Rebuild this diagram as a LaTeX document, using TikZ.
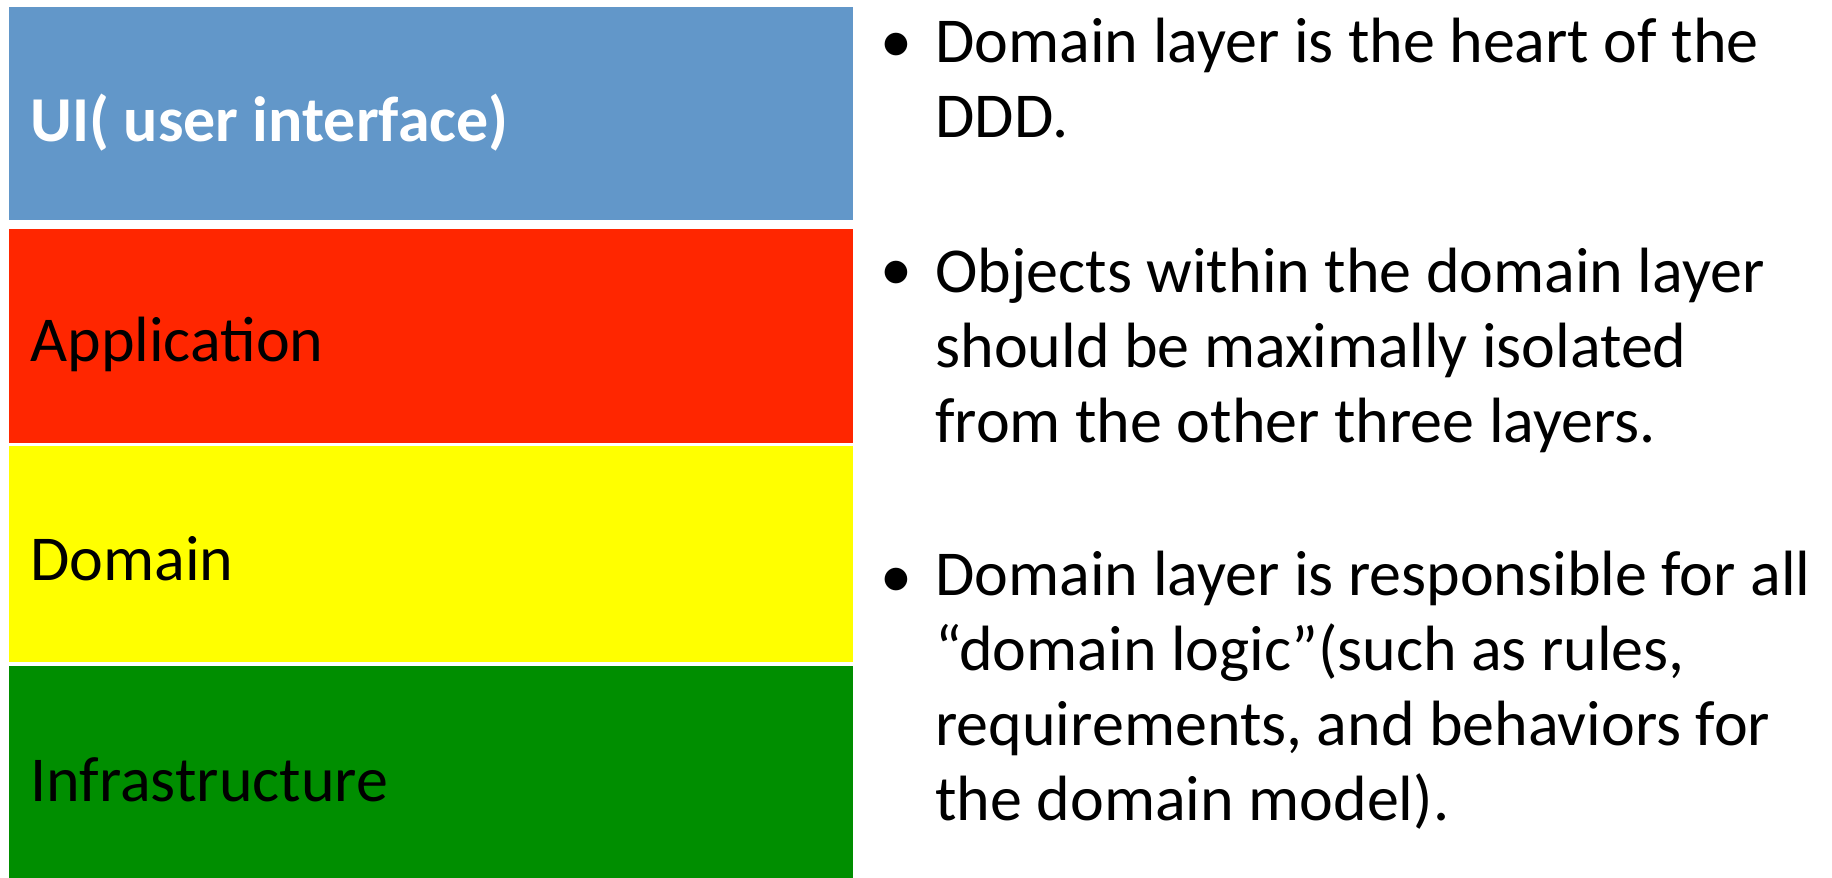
\documentclass[tikz,border=0pt]{standalone}
\usepackage{fontspec}
\setmainfont{Carlito}
\definecolor{uiblue}{HTML}{6297C9}
\definecolor{appred}{HTML}{FF2600}
\definecolor{domyellow}{HTML}{FFFF00}
\definecolor{infragreen}{HTML}{008E00}
\begin{document}
\begin{tikzpicture}[
    x=0.5pt, y=-0.5pt,
    layer/.style={rectangle, anchor=north west, inner sep=0pt, minimum width=422pt},
    layertext/.style={anchor=base west, inner sep=0pt, font=\fontsize{32}{38}\selectfont},
    dot/.style={anchor=base west, inner sep=0pt, font=\fontsize{32}{37.5}\selectfont},
    point/.style={anchor=base west, inner sep=0pt, align=left, font=\fontsize{32}{37.5}\selectfont}
]
\useasboundingbox (0,0) rectangle (1832,878);

% Layers
\node[layer, fill=uiblue, minimum height=106.5pt] (ui) at (9,7) {};
\node[layer, fill=appred, minimum height=107pt] (app) at (9,229) {};
\node[layer, fill=domyellow, minimum height=108pt] (dom) at (9,446) {};
\node[layer, fill=infragreen, minimum height=106pt] (infra) at (9,666) {};

\node[layertext, text=white, font=\fontsize{32}{38}\selectfont\bfseries] (uitext) at (30,141) {UI( user interface)};
\node[layertext] (apptext) at (30,361) {Application};
\node[layertext] (domtext) at (30,580) {Domain};
\node[layertext] (infratext) at (30,801) {Infrastructure};

% Bullet points (base = last line)
\node[dot] (dot1) at (880,62) {•};
\node[point] (pt1) at (935,137) {Domain layer is the heart of the\\DDD.};
\node[dot] (dot2) at (880,290) {•};
\node[point] (pt2) at (935,442) {Objects within the domain layer\\should be maximally isolated\\from the other three layers.};
\node[dot] (dot3) at (880,597) {•};
\node[point] (pt3) at (935,820) {Domain layer is responsible for all\\“domain logic”(such as rules,\\requirements, and behaviors for\\the domain model).};

\end{tikzpicture}
\end{document}
